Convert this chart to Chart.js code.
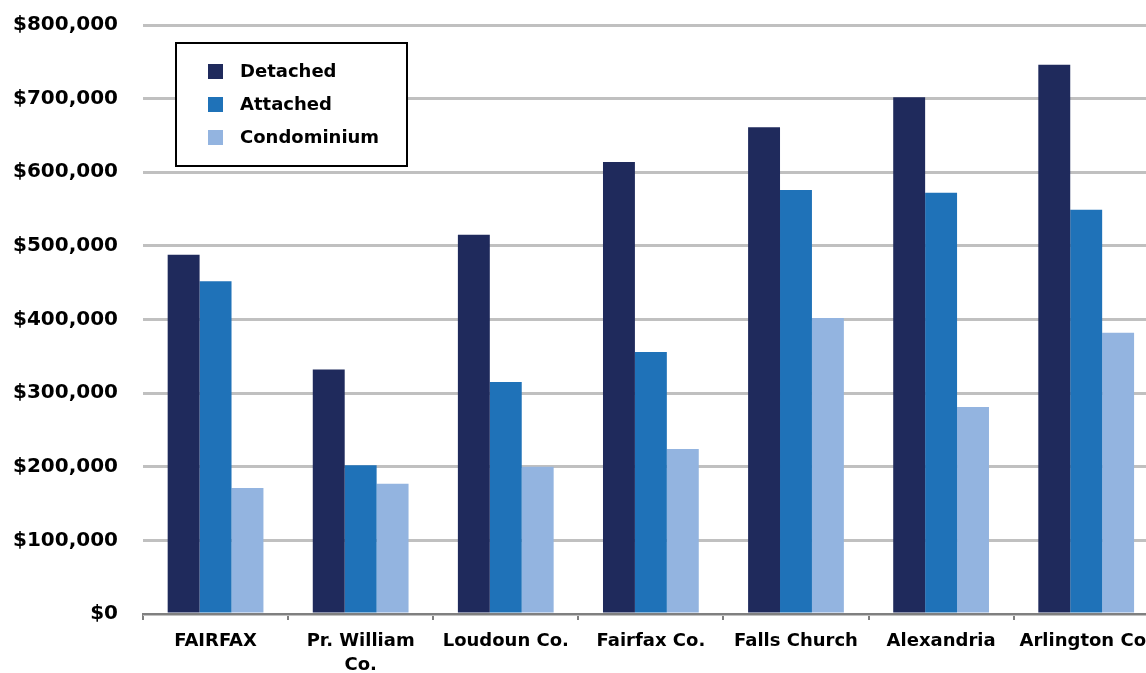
<!DOCTYPE html>
<html>
<head>
<meta charset="utf-8">
<script src="https://cdn.jsdelivr.net/npm/chart.js@4"></script>
<style>
  html, body { margin: 0; padding: 0; background: #fff; overflow: hidden; }
  #wrap { width: 1163px; height: 685px; margin-top: -12px; }
</style>
</head>
<body>
<div id="wrap"><canvas id="myChart"></canvas></div>
<script>
const areas = ["FAIRFAX", ["Pr. William", "Co."], "Loudoun Co.", "Fairfax Co.", "Falls Church", "Alexandria", "Arlington Co."]
const detached = [488000, 332000, 515000, 614000, 661000, 702000, 746000]
const attached = [452000, 202000, 315000, 356000, 576000, 572000, 549000]
const condominium = [171000, 177000, 200000, 224000, 402000, 281000, 382000]
const yTicks = [0, 100000, 200000, 300000, 400000, 500000, 600000, 700000, 800000]

const FONT = "'DejaVu Sans', Verdana, sans-serif"

// legend box drawn inside the plot (canvas is shifted up 12px)
const boxLegend = {
  id: "boxLegend",
  afterDraw(chart) {
    const ctx = chart.ctx
    const top = chart.chartArea.top
    ctx.save()
    ctx.strokeStyle = "#000"
    ctx.lineWidth = 2
    ctx.fillStyle = "#fff"
    ctx.fillRect(176, top + 18, 231, 123)
    ctx.strokeRect(176, top + 18, 231, 123)
    ctx.font = "bold 18px " + FONT
    ctx.textBaseline = "middle"
    chart.data.datasets.forEach(function (ds, i) {
      const y = top + 46 + i * 33
      ctx.fillStyle = ds.backgroundColor
      ctx.fillRect(208, y - 7, 15, 15)
      ctx.fillStyle = "#000"
      ctx.fillText(ds.label, 240, y + 1)
    })
    ctx.restore()
  }
}

const data = {
  labels: areas,
  datasets: [
    { label: "Detached", backgroundColor: "#1f2a5c", data: detached },
    { label: "Attached", backgroundColor: "#1f72b8", data: attached },
    { label: "Condominium", backgroundColor: "#93b4e0", data: condominium },
  ],
}

const config = {
  type: "bar",
  data: data,
  options: {
    responsive: true,
    maintainAspectRatio: false,
    animation: false,
    layout: { padding: { top: 13, right: 2, left: 0, bottom: 0 } },
    datasets: { bar: { barPercentage: 1, categoryPercentage: 0.66 } },
    plugins: { legend: { display: false }, tooltip: { enabled: false } },
    scales: {
      x: {
        grid: { offset: true, drawOnChartArea: false, drawTicks: true, tickLength: 6, color: "#808080", lineWidth: 2 },
        border: { color: "#808080", width: 2 },
        ticks: { color: "#000", font: { family: FONT, size: 18, weight: "bold", lineHeight: 1.3 }, padding: 10, maxRotation: 0, autoSkip: false },
        afterFit(scale) { scale.height = 59 },
      },
      y: {
        min: 0,
        max: 800000,
        afterBuildTicks(scale) { scale.ticks = yTicks.map(function (v) { return { value: v } }) },
        grid: { color: "#c0c0c0", lineWidth: 3, drawTicks: false },
        border: { display: false },
        ticks: {
          color: "#000",
          padding: 25,
          font: { family: FONT, size: 20, weight: "bold" },
          callback: function (v) { return "$" + v.toLocaleString("en-US") },
        },
        afterFit(scale) { scale.width = 143 },
      },
    },
  },
  plugins: [boxLegend],
}

const myChart = new Chart(document.getElementById("myChart"), config)
</script>
</body>
</html>
